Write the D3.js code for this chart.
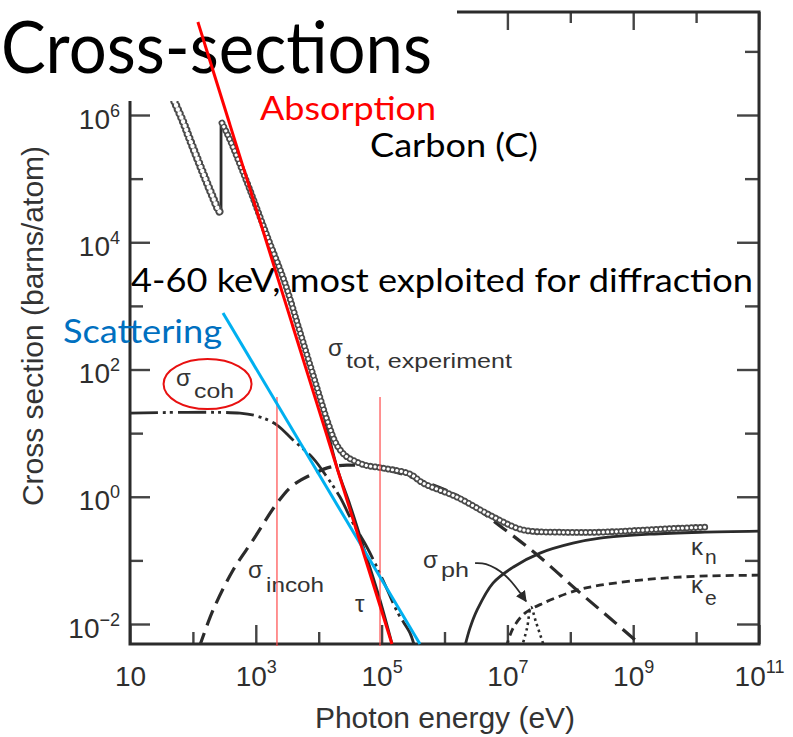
<!DOCTYPE html>
<html>
<head>
<meta charset="utf-8">
<script src="https://cdn.jsdelivr.net/npm/d3@7/dist/d3.min.js"></script>
<style>
  html, body { margin: 0; padding: 0; background: #fff; overflow: hidden; }
  svg { display: block; }
</style>
</head>
<body>
<div id="chart"></div>
<script>
// photon energy (eV) vs cross section (barns/atom), carbon
var totLow = [[40, 2.97e6], [52, 1.55e6], [70, 7.8e5], [90, 4.05e5], [120, 1.96e5],
  [156, 1.02e5], [201, 5.5e4], [260, 3.1e4], [280, 2.9e4]];
var totHigh = [[290, 7.5e5], [389, 4.05e5], [502, 2.19e5], [809, 6.6e4], [1560, 1.16e4],
  [2910, 2280], [5050, 387], [8730, 65.8], [1.41e4, 14.4], [1.95e4, 6.47], [2.72e4, 4.35],
  [3.78e4, 3.63], [5.45e4, 3.14], [1.05e5, 2.82], [2.83e5, 2.27], [4.55e5, 1.64],
  [1.58e6, 0.986], [5.28e6, 0.514], [1.42e7, 0.321], [2.29e7, 0.288], [6.86e7, 0.277],
  [2.96e8, 0.277], [1.28e9, 0.298], [5.55e9, 0.321], [1.38e10, 0.333]];
var tauLow = [[40, 2.9e6], [52, 1.5e6], [90, 4.0e5], [156, 1.0e5], [201, 5.4e4], [280, 2.85e4]];
var tauEdge = [[280, 2.85e4], [280, 7.3e5]];
var tauHigh = [[280, 7.3e5], [502, 2.15e5], [1510, 1.3e4], [5050, 361], [1.05e4, 33],
  [1.95e4, 2.9], [3.15e4, 0.74], [5.45e4, 0.135], [9.44e4, 0.0237], [1.6e5, 0.0035]];
var coh = [[10, 20.6], [561, 20.6], [1170, 17.9], [2170, 13.4], [3900, 7.8], [8110, 4.05],
  [1.36e4, 2.03], [2.18e4, 0.99], [3.51e4, 0.385], [5.86e4, 0.161], [1.05e5, 0.049],
  [1.82e5, 0.0148], [2.83e5, 0.0072], [3.4e5, 0.0042]];
var incoh = [[125, 0.0042], [209, 0.0165], [434, 0.07], [902, 0.208], [2170, 0.79],
  [3900, 1.52], [9400, 2.44], [1.51e4, 2.92], [2.82e4, 3.14], [9.44e4, 2.82],
  [4.07e5, 1.82], [1.76e6, 0.986], [8.5e6, 0.321], [3.3e7, 0.112], [1.28e8, 0.034],
  [4.28e8, 0.0123], [1.5e9, 0.0042]];
var kappaN = [[2.08e6, 0.0042], [2.54e6, 0.0086], [3.29e6, 0.0165], [5.9e6, 0.0439],
  [1.23e7, 0.078], [3.3e7, 0.13], [1.1e8, 0.186], [2.96e8, 0.223], [1.85e9, 0.258],
  [1.15e10, 0.277], [1e11, 0.288]];
var kappaE = [[9.5e6, 0.0042], [1.23e7, 0.0086], [1.9e7, 0.0148], [3.68e7, 0.0212],
  [1.28e8, 0.034], [2.96e8, 0.0407], [1.85e9, 0.0506], [1.15e10, 0.0565], [1e11, 0.0585]];
var photoNuc = [[1.68e7, 0.0042], [2.05e7, 0.0086], [2.37e7, 0.0184], [2.85e7, 0.0107], [3.9e7, 0.0042]];

var xMajor = [1e1, 1e3, 1e5, 1e7, 1e9, 1e11];
var xMinor = [1e2, 1e4, 1e6, 1e8, 1e10];
var yMajor = [1e-2, 1, 1e2, 1e4, 1e6];
var yMinor = [1e-1, 1e1, 1e3, 1e5, 1e7];

// slide annotations
var absorptionLine = [[120, 2.9e7], [1.46e5, 4.85e-3]];
var scatteringLine = [[301, 771], [4.07e5, 4.85e-3]];
var markerEnergies = [2170, 9.44e4];
var markerTop = 37;
var cohCircle = [171, 59];
var phArrow = [[3.06e6, 0.0904], [4.57e6, 0.0871], [9.16e6, 0.0585], [1.98e7, 0.0228]];

(function() {
  var width = 793, height = 737;
  var left = 130, right = 759, top = 12, bottom = 644;
  var ink = "#2b2b2b", plotFont = "'Liberation Sans', Arial, sans-serif", slideFont = "Lato, 'Open Sans', sans-serif";
  var x, y, svg, line, plot, supLabel, axisStyle, label, slideText;

  x = d3.scaleLog().domain([10, 1e11]).range([left, right]);
  y = d3.scaleLog().domain([4.85e-3, 4.16e7]).range([bottom, top]);

  svg = d3.select("#chart").append("svg").attr("width", width).attr("height", height)
    .style("background", "#fff");

  svg.append("defs").append("clipPath").attr("id", "plot-clip")
    .append("rect").attr("x", left).attr("y", top).attr("width", right - left).attr("height", bottom - top);
  svg.select("defs").append("marker").attr("id", "arrow").attr("viewBox", "0 0 10 10")
    .attr("refX", 9).attr("refY", 5).attr("markerWidth", 11).attr("markerHeight", 11)
    .attr("markerUnits", "userSpaceOnUse").attr("orient", "auto")
    .append("path").attr("d", "M0,0 L10,5 L0,10 z").attr("fill", ink);

  supLabel = function(sel, shift) {
    sel.each(function(d) {
      var e = Math.round(Math.log10(d)), t = d3.select(this);
      t.text(null);
      t.append("tspan").text("10");
      if (e !== 1) {
        t.append("tspan").attr("dy", shift).style("font-size", "18px").text(e < 0 ? "\u2212" + (-e) : e);
      }
    });
  };

  axisStyle = function(g) {
    g.select(".domain").remove();
    g.style("color", "#2e2e2e").attr("font-family", plotFont).attr("font-size", 28);
    g.selectAll(".tick line").attr("stroke", "#444").attr("stroke-width", 2.4);
  };

  // bottom and left axes with labels
  svg.append("g").attr("transform", "translate(0," + bottom + ")")
    .call(d3.axisBottom(x).tickValues(xMajor).tickSize(-19).tickPadding(22))
    .call(axisStyle)
    .selectAll(".tick text").call(supLabel, -13);
  svg.append("g").attr("transform", "translate(0," + bottom + ")")
    .call(d3.axisBottom(x).tickValues(xMinor).tickSize(-12).tickFormat(""))
    .call(axisStyle);
  svg.append("g").attr("transform", "translate(" + left + ",0)")
    .call(d3.axisLeft(y).tickValues(yMajor).tickSize(-20).tickPadding(10))
    .call(axisStyle)
    .selectAll(".tick text").attr("dy", 13).call(supLabel, -12);
  svg.append("g").attr("transform", "translate(" + left + ",0)")
    .call(d3.axisLeft(y).tickValues(yMinor).tickSize(-13).tickFormat(""))
    .call(axisStyle);

  // top and right axes, ticks only
  svg.append("g").attr("transform", "translate(0," + top + ")")
    .call(d3.axisTop(x).tickValues(xMajor).tickSize(-18).tickFormat("")).call(axisStyle);
  svg.append("g").attr("transform", "translate(0," + top + ")")
    .call(d3.axisTop(x).tickValues(xMinor).tickSize(-11).tickFormat("")).call(axisStyle);
  svg.append("g").attr("transform", "translate(" + right + ",0)")
    .call(d3.axisRight(y).tickValues(yMajor).tickSize(-22).tickFormat("")).call(axisStyle);
  svg.append("g").attr("transform", "translate(" + right + ",0)")
    .call(d3.axisRight(y).tickValues(yMinor).tickSize(-14).tickFormat("")).call(axisStyle);

  svg.append("rect").attr("x", left).attr("y", top).attr("width", right - left).attr("height", bottom - top)
    .attr("fill", "none").attr("stroke", ink).attr("stroke-width", 3);

  svg.append("text").attr("transform", "translate(43,326) rotate(-90)")
    .attr("text-anchor", "middle").attr("font-family", plotFont).attr("font-size", 30)
    .attr("fill", "#333").text("Cross section (barns/atom)");
  svg.append("text").attr("x", 445).attr("y", 728)
    .attr("text-anchor", "middle").attr("font-family", plotFont).attr("font-size", 30)
    .attr("fill", "#333").text("Photon energy (eV)");

  // curves
  line = d3.line().x(function(d) { return x(d[0]); }).y(function(d) { return y(d[1]); })
    .curve(d3.curveCatmullRom.alpha(0.5));
  plot = svg.append("g").attr("clip-path", "url(#plot-clip)")
    .attr("fill", "none").attr("stroke", ink).attr("stroke-width", 2.8);

  plot.append("path").attr("d", line(coh)).attr("stroke-dasharray", "28,5,3,4,3,5");
  plot.append("path").attr("d", line(incoh)).attr("stroke-width", 3.2).attr("stroke-dasharray", "16,8");
  plot.append("path").attr("d", line(kappaN));
  plot.append("path").attr("d", line(kappaE)).attr("stroke-dasharray", "8,5");
  plot.append("path").attr("d", line(photoNuc)).attr("stroke-width", 2.6).attr("stroke-dasharray", "2.5,3.5");
  [tauLow, tauEdge, tauHigh].forEach(function(s) {
    plot.append("path").attr("d", line(s));
  });

  // experimental points drawn as a chain of open circles (wider band below the K edge)
  [[totLow, 8.4, 4.4], [totHigh, 6.8, 3.2]].forEach(function(s) {
    plot.append("path").attr("d", line(s[0])).attr("stroke", "#4a4a4a").attr("stroke-width", s[1])
      .attr("stroke-linecap", "round").attr("stroke-dasharray", "0.01,4.4");
    plot.append("path").attr("d", line(s[0])).attr("stroke", "#fff").attr("stroke-width", s[2])
      .attr("stroke-linecap", "round").attr("stroke-dasharray", "0.01,4.4");
  });

  svg.append("path").attr("d", line(phArrow)).attr("fill", "none").attr("stroke", ink)
    .attr("stroke-width", 1.8).attr("marker-end", "url(#arrow)");

  // curve labels
  label = function(px, py, main, sub, subLen, subDy) {
    var g = svg.append("g").attr("font-family", plotFont).attr("fill", "#333");
    g.append("text").attr("x", px).attr("y", py).attr("font-size", 24).text(main);
    if (sub) {
      g.append("text").attr("x", px + 18).attr("y", py + subDy).attr("font-size", 21)
        .attr("textLength", subLen).attr("lengthAdjust", "spacingAndGlyphs").text(sub);
    }
  };
  label(328, 356, "\u03c3", "tot, experiment", 166, 12);
  label(176, 386, "\u03c3", "coh", 40, 12);
  label(248, 578, "\u03c3", "incoh", 58, 14);
  label(423, 568, "\u03c3", "ph", 28, 9);
  label(355, 612, "\u03c4", null);
  label(691, 555, "\u03ba", null);
  label(691, 593, "\u03ba", null);
  svg.append("text").attr("x", 705).attr("y", 564).attr("font-family", plotFont).attr("font-size", 21)
    .attr("fill", "#333").text("n");
  svg.append("text").attr("x", 705).attr("y", 605).attr("font-family", plotFont).attr("font-size", 21)
    .attr("fill", "#333").text("e");

  // slide overlay: title box, annotation text and lines
  slideText = function(px, py, size, len, color, txt) {
    svg.append("text").attr("x", px).attr("y", py).attr("font-family", slideFont).attr("font-size", size)
      .attr("textLength", len).attr("lengthAdjust", "spacingAndGlyphs").attr("fill", color).text(txt);
  };
  svg.append("rect").attr("x", 0).attr("y", 0).attr("width", 457).attr("height", 101).attr("fill", "#fff");
  slideText(1, 73, 71, 431, "#000", "Cross-sections");
  slideText(260, 120, 32, 176, "#ff0000", "Absorption");
  slideText(370, 157, 32, 168, "#000", "Carbon (C)");
  slideText(131, 292, 32, 622, "#000", "4-60 keV, most exploited for diffraction");
  slideText(63, 343, 32, 159, "#0070c0", "Scattering");

  svg.selectAll(".marker-line").data(markerEnergies).enter().append("line").attr("class", "marker-line")
    .attr("x1", function(d) { return x(d); }).attr("x2", function(d) { return x(d); })
    .attr("y1", y(markerTop)).attr("y2", bottom + 2)
    .attr("stroke", "#ff4a4a").attr("stroke-width", 1.2);

  svg.append("ellipse").attr("cx", x(cohCircle[0])).attr("cy", y(cohCircle[1]))
    .attr("rx", 44).attr("ry", 25).attr("fill", "none").attr("stroke", "#e81010").attr("stroke-width", 2);

  svg.append("path").attr("d", d3.line().x(function(d) { return x(d[0]); }).y(function(d) { return y(d[1]); })(scatteringLine))
    .attr("stroke", "#00b0f0").attr("stroke-width", 3);
  svg.append("path").attr("d", d3.line().x(function(d) { return x(d[0]); }).y(function(d) { return y(d[1]); })(absorptionLine))
    .attr("stroke", "#ff0000").attr("stroke-width", 3);
})();
</script>
</body>
</html>
